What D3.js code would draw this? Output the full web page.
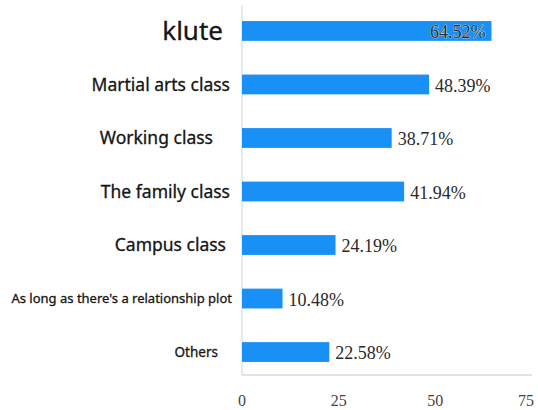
<!DOCTYPE html>
<html><head><meta charset="utf-8">
<script src="https://cdn.jsdelivr.net/npm/d3@7"></script>
<style>body{margin:0;background:#fff}</style>
</head><body><svg id="c" width="538" height="410"></svg>
<script>
const categories = ["klute","Martial arts class","Working class","The family class","Campus class","As long as there's a relationship plot","Others"];
const values = [64.52,48.39,38.71,41.94,24.19,10.48,22.58];
const ticks = [0,25,50,75];

const labelStyle = [
  {size:26, dx:-19}, {size:17.5, dx:-12}, {size:17.5, dx:-29}, {size:17.5, dx:-12},
  {size:17.5, dx:-16}, {size:13, dx:-10}, {size:13.5, dx:-24}
];

const svg = d3.select("#c");
const x = d3.scaleLinear().domain([0,75]).range([242,532]);
const y = d3.scaleBand().domain(categories).range([5,378]).paddingInner(0.63).paddingOuter(0.3);

svg.append("line").attr("x1",242).attr("x2",242).attr("y1",5).attr("y2",375)
  .attr("stroke","#dde3ec").attr("stroke-width",1.5);
svg.append("line").attr("x1",242).attr("x2",532).attr("y1",375).attr("y2",375)
  .attr("stroke","#d5dbe6").attr("stroke-width",1.5);

svg.selectAll("rect.bar").data(values).enter().append("rect")
  .attr("x",x(0)).attr("y",(d,i)=>y(categories[i]))
  .attr("width",d=>x(d)-x(0)).attr("height",y.bandwidth())
  .attr("fill","#1890f5");

svg.selectAll("text.cat").data(categories).enter().append("text")
  .attr("x",(d,i)=>242+labelStyle[i].dx).attr("y",(d,i)=>y(d)+y.bandwidth()/2)
  .attr("dy","0.35em").attr("text-anchor","end")
  .attr("font-family","'Noto Sans', sans-serif")
  .attr("font-size",(d,i)=>labelStyle[i].size)
  .attr("fill","#151515").attr("stroke","#151515").attr("stroke-width",0.3)
  .text(d=>d);

svg.selectAll("text.val").data(values).enter().append("text")
  .attr("x",(d,i)=> i===0 ? x(d)-6 : x(d)+6)
  .attr("y",(d,i)=>y(categories[i])+y.bandwidth()/2)
  .attr("dy","0.4em").attr("text-anchor",(d,i)=> i===0?"end":"start")
  .attr("font-family","'Liberation Serif', serif").attr("font-size",18)
  .attr("fill",(d,i)=> i===0?"#2b2b2b":"#2a2a2a")
  .attr("stroke",(d,i)=> i===0?"#eeeeee":"none").attr("stroke-width",0.7)
  .attr("paint-order","stroke")
  .text(d=>d.toFixed(2)+"%");

svg.selectAll("text.tick").data(ticks).enter().append("text")
  .attr("x",d=> d===75 ? x(d)-6 : x(d)).attr("y",406)
  .attr("text-anchor","middle")
  .attr("font-family","'Liberation Serif', serif").attr("font-size",16)
  .attr("fill","#444").text(d=>d);
</script></body></html>
